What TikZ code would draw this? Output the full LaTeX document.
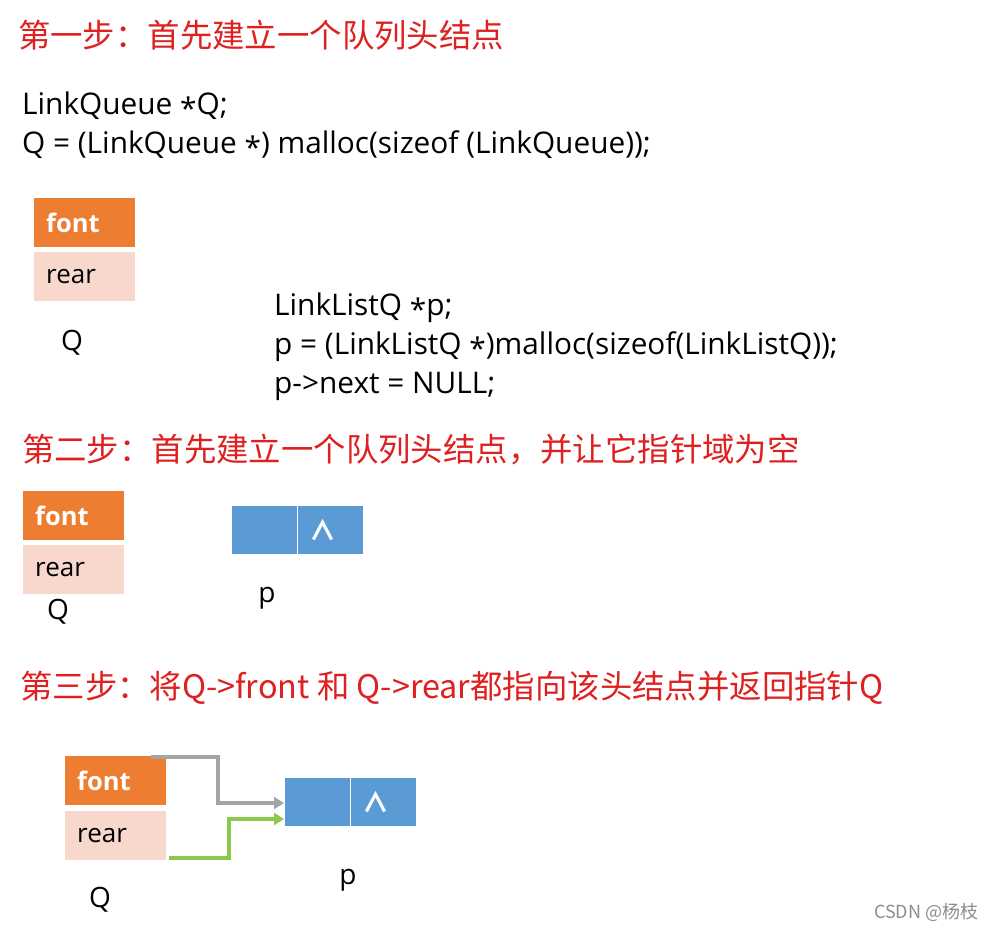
\documentclass[tikz,border=0pt]{standalone}
\usepackage{fontspec}
\setmainfont{Noto Sans CJK SC}
\newfontfamily\latinf{Open Sans}
\newcommand{\cstar}{\raisebox{-0.3ex}{*}}
\usetikzlibrary{arrows.meta}
\definecolor{headred}{RGB}{222,32,32}
\definecolor{qorange}{RGB}{237,125,49}
\definecolor{qpink}{RGB}{248,215,205}
\definecolor{nblue}{RGB}{91,155,213}
\definecolor{agray}{RGB}{165,165,165}
\definecolor{agreen}{RGB}{140,200,75}
\tikzset{
  head/.style={anchor=west, inner sep=0pt, text=headred, font=\fontsize{32.4}{36}\selectfont},
  code/.style={anchor=west, inner sep=0pt, align=left, font=\latinf\fontsize{29.8}{39}\selectfont},
  fbox/.style={anchor=north west, fill=qorange, text=white, minimum height=49pt, text width=77pt, inner xsep=12pt, inner ysep=0pt, align=left, font=\latinf\bfseries\fontsize{25.5}{30}\selectfont},
  rbox/.style={anchor=north west, fill=qpink, text=black, minimum height=49pt, text width=77pt, inner xsep=12pt, inner ysep=0pt, align=left, font=\latinf\fontsize{26}{30}\selectfont},
  lbl/.style={inner sep=0pt, font=\latinf\fontsize{28}{30}\selectfont},
  pcell/.style={anchor=north west, fill=nblue, draw=white, line width=1pt, minimum width=66pt, minimum height=49pt, inner sep=0pt, text=white, font=\bfseries\fontsize{27}{28}\selectfont},
  conn/.style={line width=4pt, -{Triangle[length=10pt,width=12pt]}},
}
\begin{document}
\begin{tikzpicture}[x=1pt,y=-1pt]
\useasboundingbox (0,0) rectangle (1002,930);
% step 1
\node[head] (h1) at (18,35) {第一步：首先建立一个队列头结点};
\node[code] (c1) at (22,125) {LinkQueue \cstar Q;\\Q = (LinkQueue \cstar) malloc(sizeof (LinkQueue));};
\node[fbox] (f1) at (34,198) {font};
\node[rbox] (r1) at (34,252) {rear};
\node[lbl] (q1) at (72,343) {Q};
\node[code] (c2) at (274,347) {LinkListQ \cstar p;\\p = (LinkListQ \cstar)malloc(sizeof(LinkListQ));\\p->next = NULL;};
% step 2
\node[head] (h2) at (22,450) {第二步：首先建立一个队列头结点，并让它指针域为空};
\node[fbox] (f2) at (23,491) {font};
\node[rbox] (r2) at (23,545) {rear};
\node[lbl] (q2) at (58,612) {Q};
\node[pcell] (p2a) at (231,505) {};
\node[pcell] (p2b) at (297,505) {\kern-16pt∧};
\node[lbl] (pl2) at (267,598) {p};
% step 3
\node[head] (h3) at (20,688) {第三步：将Q->front 和 Q->rear都指向该头结点并返回指针Q};
\node[fbox] (f3) at (65,756) {font};
\node[rbox] (r3) at (65,811) {rear};
\node[lbl] (q3) at (100,900) {Q};
\node[pcell] (p3a) at (284,777) {};
\node[pcell] (p3b) at (350,777) {\kern-16pt∧};
\node[lbl] (pl3) at (348,880) {p};
\draw[conn, agray] ([xshift=-15pt,yshift=-1pt]f3.north east) -- ++(67,0) |- ([yshift=-1pt]p3a.west);
\draw[conn, agreen] ([xshift=3pt,yshift=2pt]r3.south east) -- ++(60,0) |- ([yshift=-17pt]p3a.west);
\node[anchor=west, inner sep=0pt, text=black!45, font=\fontsize{18}{20}\selectfont] (wm) at (874,912) {CSDN @杨枝};
\end{tikzpicture}
\end{document}
